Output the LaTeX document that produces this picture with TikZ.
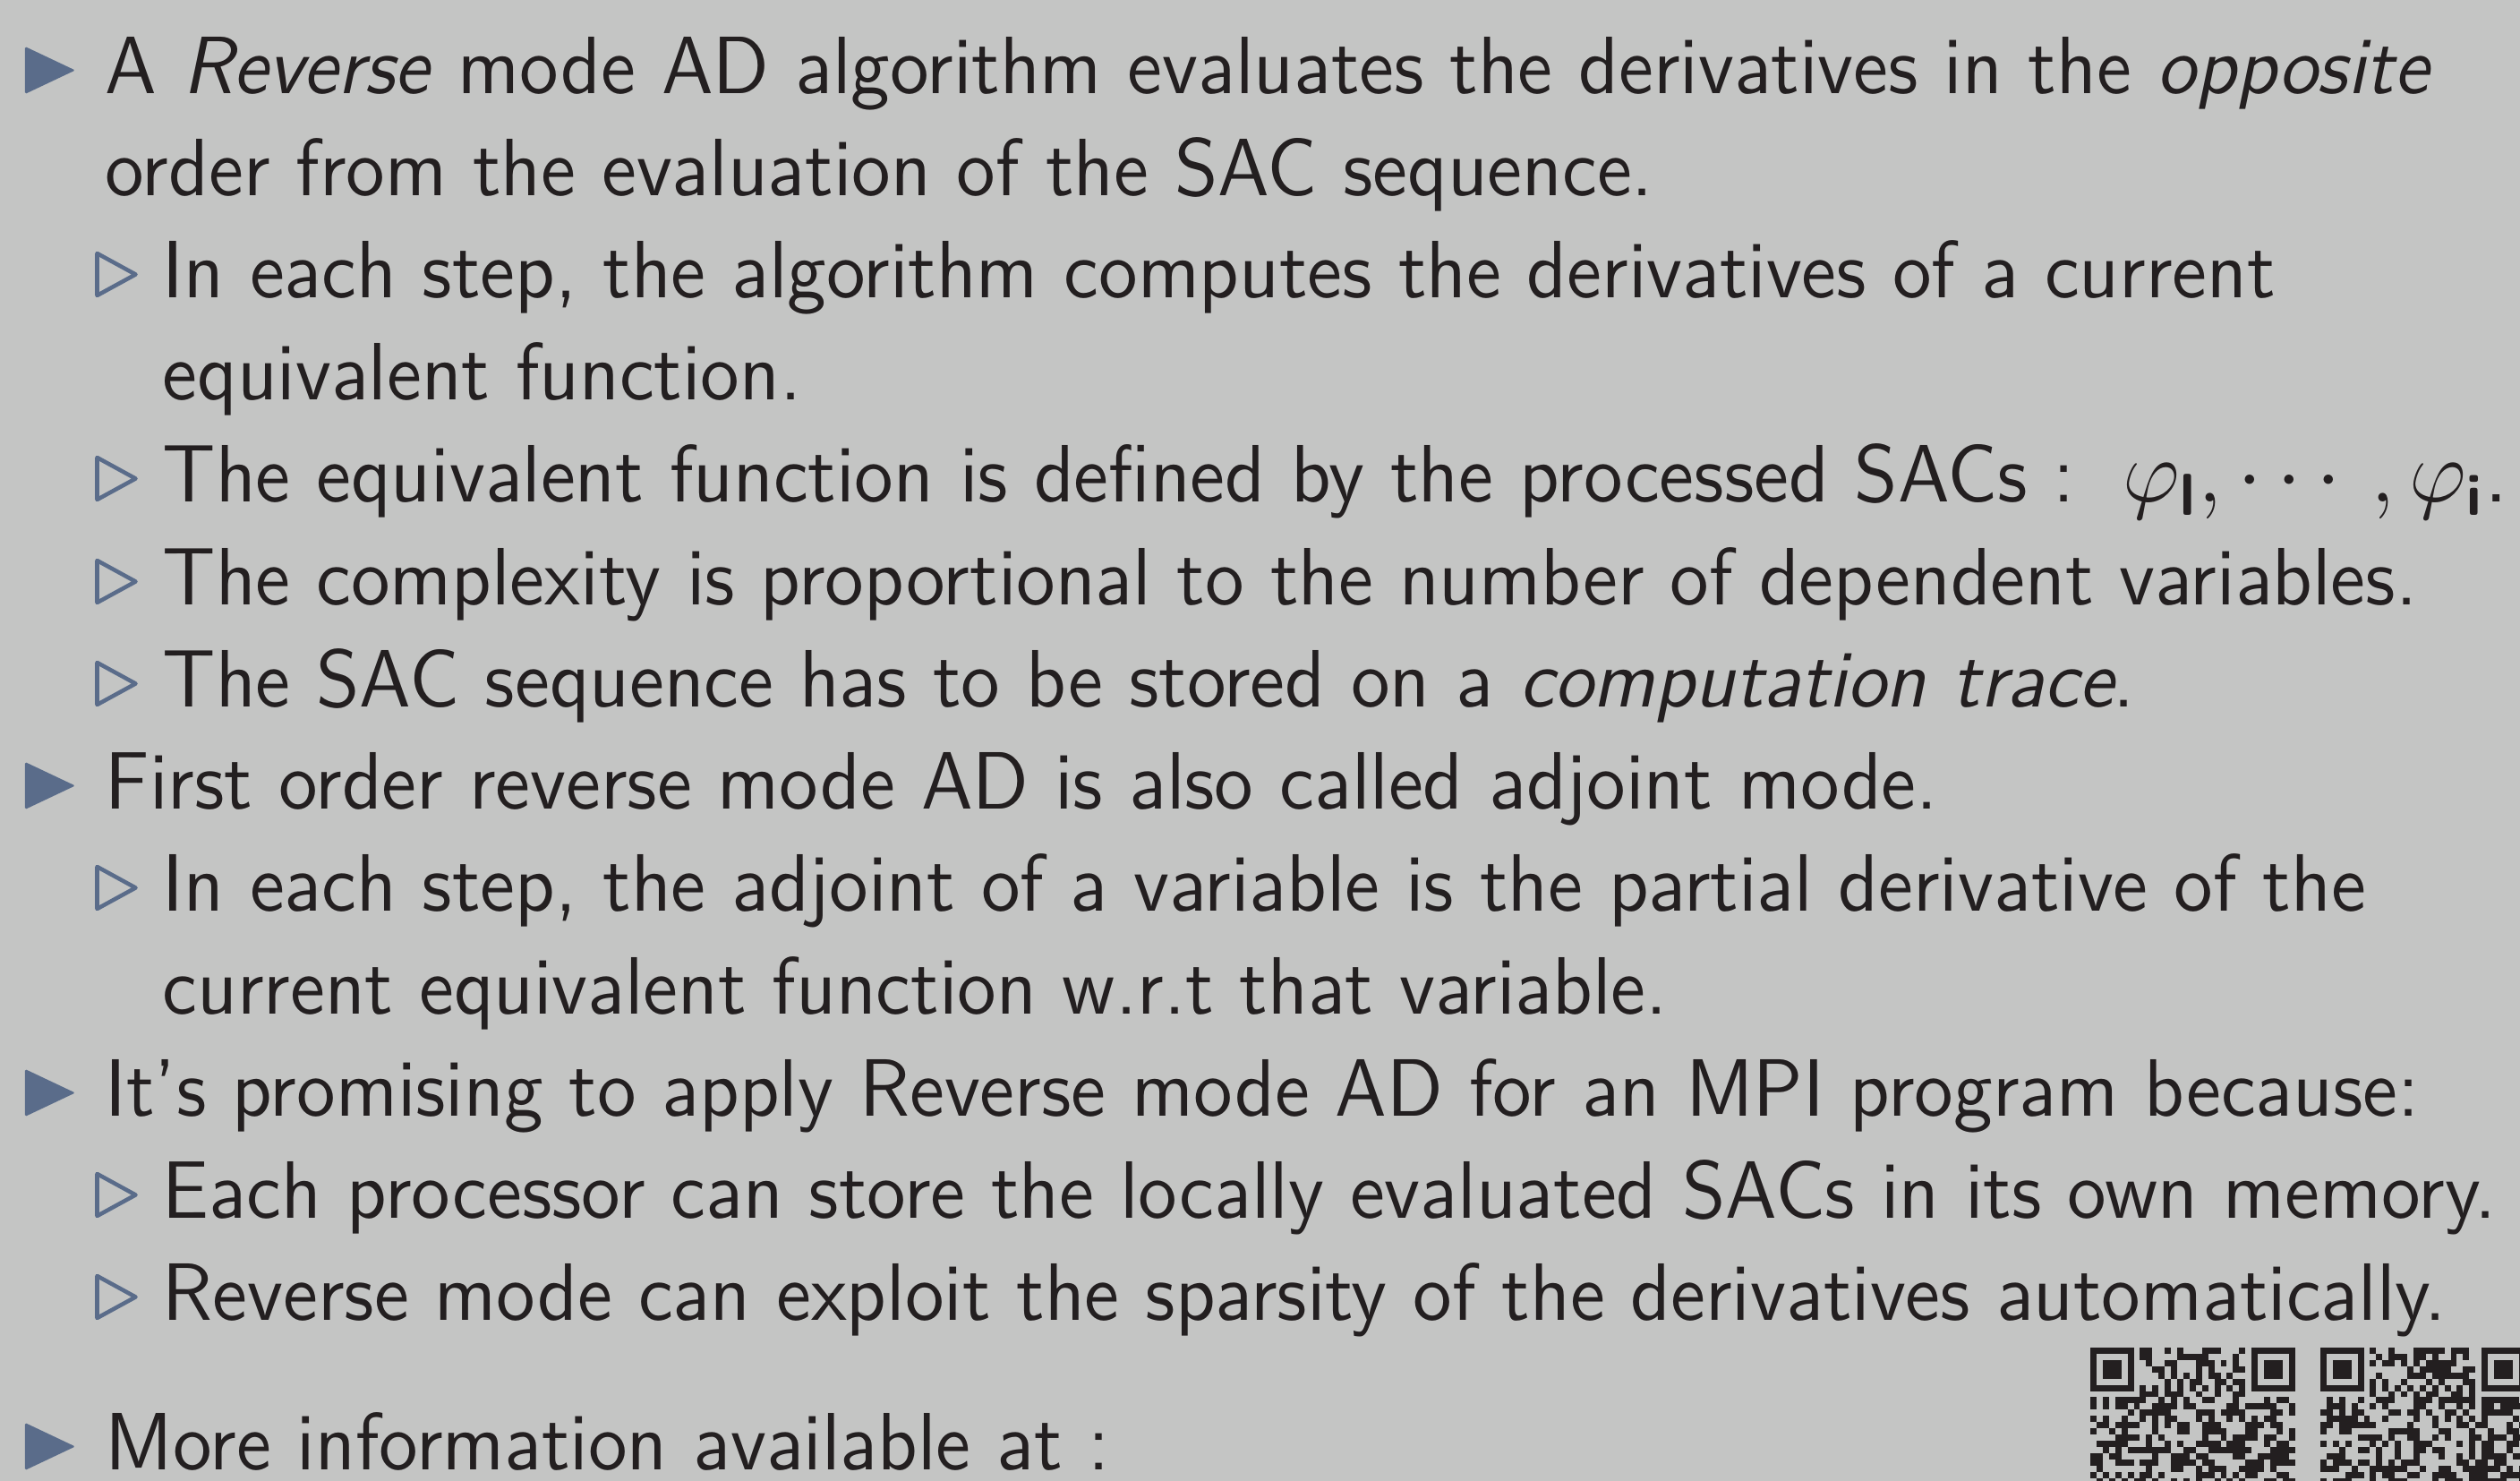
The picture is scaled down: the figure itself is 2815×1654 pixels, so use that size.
\documentclass[tikz,border=0pt]{standalone}
\usepackage{amsmath,amssymb}
\usepackage{fontspec}
\setsansfont{lmsans12-regular.otf}[FakeStretch=0.98,ItalicFont=lmsans12-oblique.otf,BoldFont=lmsans10-bold.otf]
\usepackage{tikz}
\usetikzlibrary{positioning}
\definecolor{slidebg}{RGB}{196,197,196}
\definecolor{bulletblue}{RGB}{90,108,138}
\definecolor{slidetext}{RGB}{35,31,32}

\begin{document}
\begin{tikzpicture}[x=0.1211pt,y=-0.1211pt,
    txt/.style={anchor=base west,inner sep=0pt,text=slidetext,
      font=\sffamily\fontsize{11}{13}\selectfont},
    mainbul/.style={fill=bulletblue,rounded corners=0.2pt},
    subbul/.style={draw=bulletblue,line width=0.55pt,line join=round}]
  \clip (0,0) rectangle (2815,1654);
  \fill[slidebg] (0,0) rectangle (2815,1654);

  % bullets
  \foreach \y in {105,904,1247,1642}
    \fill[mainbul] (28,\y-53) -- ++(56,26.5) -- ++(-56,26.5) -- cycle;
  \foreach \y in {333,561,676,790,1018,1361,1475}
    \draw[subbul] (108.5,\y-50) -- ++(43,23.5) -- ++(-43,23.5) -- cycle;

  % items
  \node[txt] (l1)  at (116,105)  {A \emph{Reverse} mode AD algorithm evaluates the derivatives in the \emph{opposite}};
  \node[txt] (l2)  at (116,219)  {order from the evaluation of the SAC sequence.};
  \node[txt] (l3)  at (180,333)  {In each step, the algorithm computes the derivatives of a current};
  \node[txt] (l4)  at (180,447)  {equivalent function.};
  \node[txt] (l5)  at (180,561)  {The equivalent function is defined by the processed SACs : \,{\fontsize{12}{13}\selectfont$\varphi_{\textbf{l}}, \cdots, \varphi_{\textbf{i}}$.}};
  \node[txt] (l6)  at (180,676)  {The complexity is proportional to the number of dependent variables.};
  \node[txt] (l7)  at (180,790)  {The SAC sequence has to be stored on a \emph{computation trace}.};
  \node[txt] (l8)  at (116,904)  {First order reverse mode AD is also called adjoint mode.};
  \node[txt] (l9)  at (180,1018) {In each step, the adjoint of a variable is the partial derivative of the};
  \node[txt] (l10) at (180,1133) {current equivalent function w.r.t that variable.};
  \node[txt] (l11) at (116,1247) {It's promising to apply Reverse mode AD for an MPI program because:};
  \node[txt] (l12) at (180,1361) {Each processor can store the locally evaluated SACs in its own memory.};
  \node[txt] (l13) at (180,1475) {Reverse mode can exploit the sparsity of the derivatives automatically.};
  \node[txt] (l14) at (116,1642) {More information available at :};

  % qr codes
  \pgfmathsetseed{271}
  \foreach \qx in {2335,2592}{
    \foreach \fx in {0,26}{
      \fill[slidetext] (\qx+\fx*6.93,1505) rectangle ++(7*6.93,7*6.93);
      \fill[slidebg] (\qx+\fx*6.93+6.93,1505+6.93) rectangle ++(5*6.93,5*6.93);
      \fill[slidetext] (\qx+\fx*6.93+2*6.93,1505+2*6.93) rectangle ++(3*6.93,3*6.93);
    }
    \foreach \r in {0,...,21}{
      \foreach \c in {0,...,32}{
        \pgfmathtruncatemacro\infinder{(\r<8)&&((\c<8)||(\c>24))}
        \pgfmathtruncatemacro\isdark{rnd<0.5}
        \ifnum\r=6 \pgfmathtruncatemacro\isdark{mod(\c+1,2)}\fi
        \ifnum\c=6 \pgfmathtruncatemacro\isdark{mod(\r+1,2)}\fi
        \ifnum\infinder=0 \ifnum\isdark=1
          \fill[slidetext] (\qx+\c*6.93,1505+\r*6.93) rectangle ++(6.95,6.95);
        \fi\fi
      }
    }
  }
\end{tikzpicture}
\end{document}
